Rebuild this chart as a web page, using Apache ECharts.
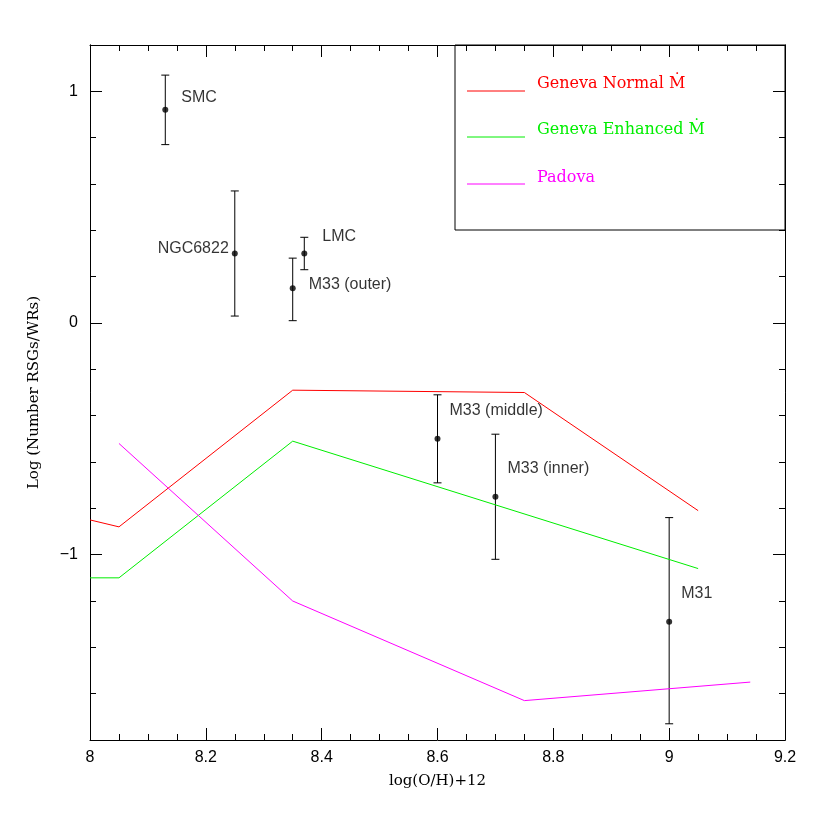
<!DOCTYPE html>
<html>
<head>
<meta charset="utf-8">
<script src="https://cdn.jsdelivr.net/npm/echarts@6/dist/echarts.min.js"></script>
<style>body{margin:0;background:#fff}#main{width:830px;height:830px}</style>
</head>
<body>
<div id="main"></div>
<script>
// observed galaxies
var galNames = ['SMC', 'NGC6822', 'LMC', 'M33 (outer)', 'M33 (middle)', 'M33 (inner)', 'M31'];
var galX = [8.13, 8.25, 8.37, 8.35, 8.6, 8.7, 9.0];
var galY = [0.92, 0.30, 0.30, 0.15, -0.50, -0.75, -1.29];
var galLo = [0.77, 0.03, 0.23, 0.01, -0.69, -1.02, -1.73];
var galHi = [1.07, 0.57, 0.37, 0.28, -0.31, -0.48, -0.84];

// model tracks
var genevaX = [8.0, 8.05, 8.35, 8.75, 9.05];
var genevaNormal = [-0.85, -0.88, -0.29, -0.30, -0.81];
var genevaEnhX = [8.0, 8.05, 8.35, 9.05];
var genevaEnh = [-1.10, -1.10, -0.51, -1.06];
var padovaX = [8.05, 8.35, 8.75, 9.14];
var padova = [-0.52, -1.20, -1.63, -1.55];

var labelPos = [
  {position: 'right', offset: [8, -12]},
  {position: 'left', offset: [2, -5]},
  {position: 'right', offset: [10, -17]},
  {position: 'right', offset: [8, -4]},
  {position: 'right', offset: [4, -28]},
  {position: 'right', offset: [4, -28]},
  {position: 'right', offset: [4, -28]}
];

function zip(xs, ys) { return xs.map(function (x, i) { return [x, ys[i]]; }); }

var chart = echarts.init(document.getElementById('main'));
var sans = 'Liberation Sans';
var serif = 'DejaVu Serif';

function xAx(pos, show) {
  return {
    type: 'value', position: pos, min: 8, max: 9.2, interval: 0.2,
    axisLine: {show: true, onZero: false, lineStyle: {color: '#000'}},
    axisTick: {inside: true, length: 12, lineStyle: {color: '#000'}},
    minorTick: {show: true, splitNumber: 4, length: 6, lineStyle: {color: '#000'}},
    splitLine: {show: false},
    axisLabel: {show: show, color: '#000', fontFamily: sans, fontSize: 16, margin: 10,
      formatter: function (v) { return String(Math.round(v * 10) / 10); }},
    name: show ? 'log(O/H)+12' : '', nameLocation: 'middle', nameGap: 34,
    nameTextStyle: {color: '#000', fontFamily: serif, fontSize: 15}
  };
}
function yAx(pos, show, major) {
  return {
    type: 'value', position: pos, min: -1.8, max: 1.2,
    interval: major ? undefined : 0.2,
    axisLine: {show: true, onZero: false, lineStyle: {color: '#000'}},
    axisTick: major ? {inside: true, length: 12, customValues: [-1, 0, 1], lineStyle: {color: '#000'}}
                    : {inside: true, length: 6, lineStyle: {color: '#000'}},
    splitLine: {show: false},
    axisLabel: major && show ? {show: true, color: '#000', fontFamily: sans, fontSize: 16, margin: 12,
      customValues: [-1, 0, 1], formatter: function (v) { return String(v).replace('-', '\u2212'); }} : {show: false},
    name: major && show ? 'Log (Number RSGs/WRs)' : '', nameLocation: 'middle', nameGap: 48,
    nameTextStyle: {color: '#000', fontFamily: serif, fontSize: 15}
  };
}

var pts = galNames.map(function (n, i) {
  return {value: [galX[i], galY[i]], name: n,
    label: {show: true, formatter: n, position: labelPos[i].position, offset: labelPos[i].offset,
      color: '#000', fontFamily: sans, fontSize: 16}};
});

chart.setOption({
  animation: false,
  backgroundColor: '#fff',
  grid: {left: 90, right: 45, top: 45, bottom: 90},
  xAxis: [xAx('bottom', true), xAx('top', false)],
  yAxis: [yAx('left', true, true), yAx('left', false, false), yAx('right', false, true), yAx('right', false, false)],
  series: [
    {type: 'line', data: zip(genevaX, genevaNormal), symbol: 'none', lineStyle: {color: '#ff0000', width: 1}},
    {type: 'line', data: zip(genevaEnhX, genevaEnh), symbol: 'none', lineStyle: {color: '#00ee00', width: 1}},
    {type: 'line', data: zip(padovaX, padova), symbol: 'none', lineStyle: {color: '#ff00ff', width: 1}},
    {type: 'custom', data: galX.map(function (x, i) { return [x, galLo[i], galHi[i]]; }),
      renderItem: function (params, api) {
        var lo = api.coord([api.value(0), api.value(1)]);
        var hi = api.coord([api.value(0), api.value(2)]);
        var s = {stroke: '#000', lineWidth: 1};
        return {type: 'group', children: [
          {type: 'line', shape: {x1: lo[0], y1: lo[1], x2: hi[0], y2: hi[1]}, style: s},
          {type: 'line', shape: {x1: lo[0] - 4, y1: lo[1], x2: lo[0] + 4, y2: lo[1]}, style: s},
          {type: 'line', shape: {x1: hi[0] - 4, y1: hi[1], x2: hi[0] + 4, y2: hi[1]}, style: s}
        ]};
      }},
    {type: 'scatter', data: pts, symbolSize: 6, itemStyle: {color: '#000'}}
  ],
  graphic: [
    {type: 'rect', shape: {x: 455, y: 45, width: 330, height: 185}, style: {fill: 'none', stroke: '#000', lineWidth: 1}},
    {type: 'line', shape: {x1: 467, y1: 91, x2: 525, y2: 91}, style: {stroke: '#ff0000', lineWidth: 1}},
    {type: 'text', x: 537, y: 76, style: {text: 'Geneva Normal Ṁ', fill: '#ff0000', font: '16px "DejaVu Serif"'}},
    {type: 'line', shape: {x1: 467, y1: 137, x2: 525, y2: 137}, style: {stroke: '#00ee00', lineWidth: 1}},
    {type: 'text', x: 537, y: 122, style: {text: 'Geneva Enhanced Ṁ', fill: '#00ee00', font: '16px "DejaVu Serif"'}},
    {type: 'line', shape: {x1: 467, y1: 184, x2: 525, y2: 184}, style: {stroke: '#ff00ff', lineWidth: 1}},
    {type: 'text', x: 537, y: 170, style: {text: 'Padova', fill: '#ff00ff', font: '16px "DejaVu Serif"'}}
  ]
});
</script>
</body>
</html>
